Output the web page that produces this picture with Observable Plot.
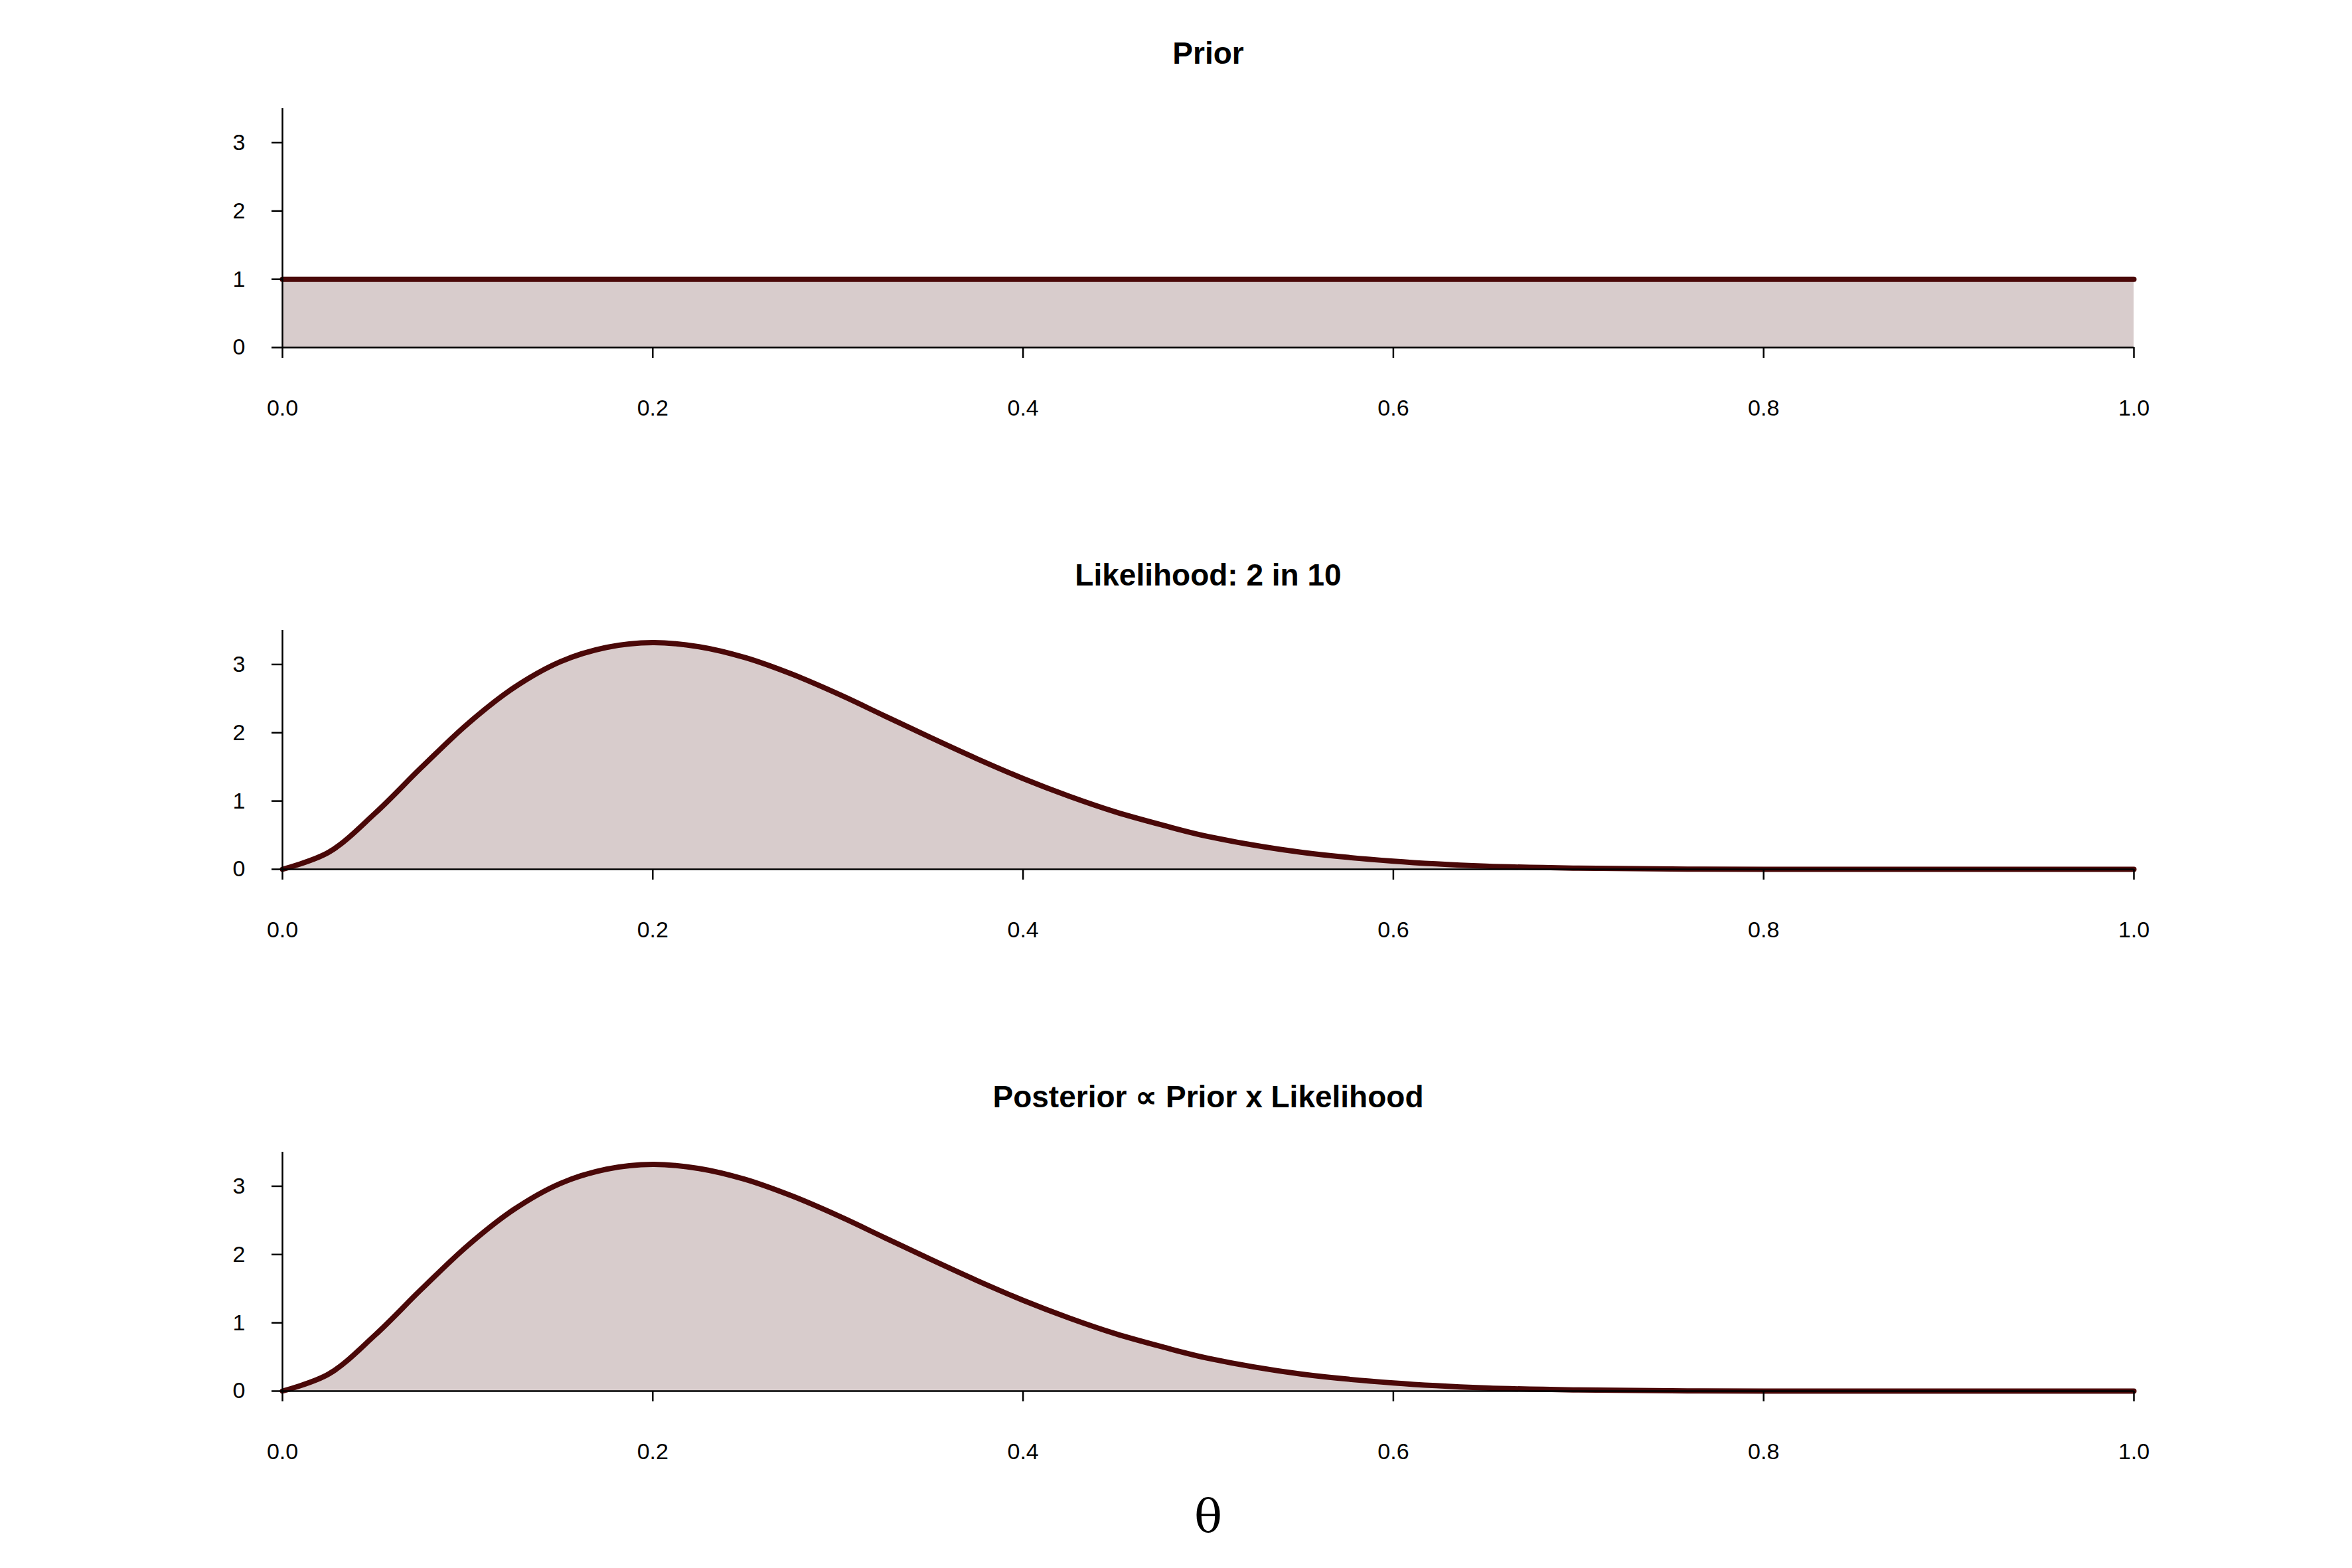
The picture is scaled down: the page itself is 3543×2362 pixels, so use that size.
<!DOCTYPE html>
<html>
<head>
<meta charset="utf-8">
<script src="https://cdn.jsdelivr.net/npm/d3@7"></script>
<script src="https://cdn.jsdelivr.net/npm/@observablehq/plot@0.6"></script>
<style>
  body { margin: 0; background: #fff; }
  #chart svg { display: block; }
</style>
</head>
<body>
<div id="chart"></div>
<script>
// theta grid and densities
const theta = [0, 0.025, 0.05, 0.075, 0.1, 0.125, 0.15, 0.175, 0.2, 0.225, 0.25, 0.275, 0.3,
  0.325, 0.35, 0.375, 0.4, 0.425, 0.45, 0.475, 0.5, 0.55, 0.6, 0.65, 0.7, 0.75, 0.8, 0.9, 1.0];
const priorDensity = theta.map(() => 1);
const likelihoodDensity = [0, 0.25, 0.82, 1.49, 2.13, 2.66, 3.04, 3.25, 3.32, 3.26, 3.10, 2.86, 2.57,
  2.25, 1.93, 1.62, 1.33, 1.07, 0.84, 0.65, 0.48, 0.25, 0.12, 0.047, 0.016, 0.004, 0.001, 0, 0];
const posteriorDensity = [0, 0.25, 0.82, 1.49, 2.13, 2.66, 3.04, 3.25, 3.32, 3.26, 3.10, 2.86, 2.57,
  2.25, 1.93, 1.62, 1.33, 1.07, 0.84, 0.65, 0.48, 0.25, 0.12, 0.047, 0.016, 0.004, 0.001, 0, 0];

const panelTitles = ["Prior", "Likelihood: 2 in 10", "Posterior \u221d Prior x Likelihood"];
const panelSeries = [priorDensity, likelihoodDensity, posteriorDensity];
const xTicks = [0, 0.2, 0.4, 0.6, 0.8, 1.0];
const yTicks = [0, 1, 2, 3];

const FILL = "#d8cccc", STROKE = "#4a0808";
const container = document.getElementById("chart");

panelSeries.forEach((series, i) => {
  const rows = theta.map((t, k) => ({ t, d: series[k] }));
  const isLast = i === panelSeries.length - 1;
  const marks = [
    Plot.areaY(rows, { x: "t", y: "d", fill: FILL, curve: "catmull-rom" }),
    Plot.lineY(rows, { x: "t", y: "d", stroke: STROKE, strokeWidth: 8, curve: "catmull-rom" }),
    Plot.ruleY([0], { x1: 0, x2: 1, stroke: "#000", strokeWidth: 2.5 }),
    Plot.ruleX([0], { y1: 0, y2: 3.5, stroke: "#000", strokeWidth: 2.5 }),
    Plot.axisX({ ticks: xTicks, tickFormat: d3.format(".1f"), tickSize: 16, tickPadding: 62,
      strokeWidth: 2.5, label: null }),
    Plot.axisY({ ticks: yTicks, tickFormat: d3.format("d"), tickSize: 16, tickPadding: 40,
      strokeWidth: 2.5, label: null }),
    Plot.text([panelTitles[i]], { frameAnchor: "top", dy: -100, fontSize: 46,
      fontWeight: "bold", fill: "#000" })
  ];
  if (isLast) {
    marks.push(Plot.text(["\u03b8"], { frameAnchor: "bottom", dy: 212, fontSize: 70,
      fontFamily: "DejaVu Serif, Liberation Serif, serif", fill: "#000" }));
  }
  const plot = Plot.plot({
    width: 3543,
    height: 786,
    marginLeft: 425,
    marginRight: 329,
    marginTop: 163,
    marginBottom: 263,
    style: { fontFamily: "Liberation Sans, Arial, sans-serif", fontSize: "34px", overflow: "visible" },
    x: { domain: [0, 1] },
    y: { domain: [0, 3.5] },
    marks
  });
  container.appendChild(plot);
});
</script>
</body>
</html>
